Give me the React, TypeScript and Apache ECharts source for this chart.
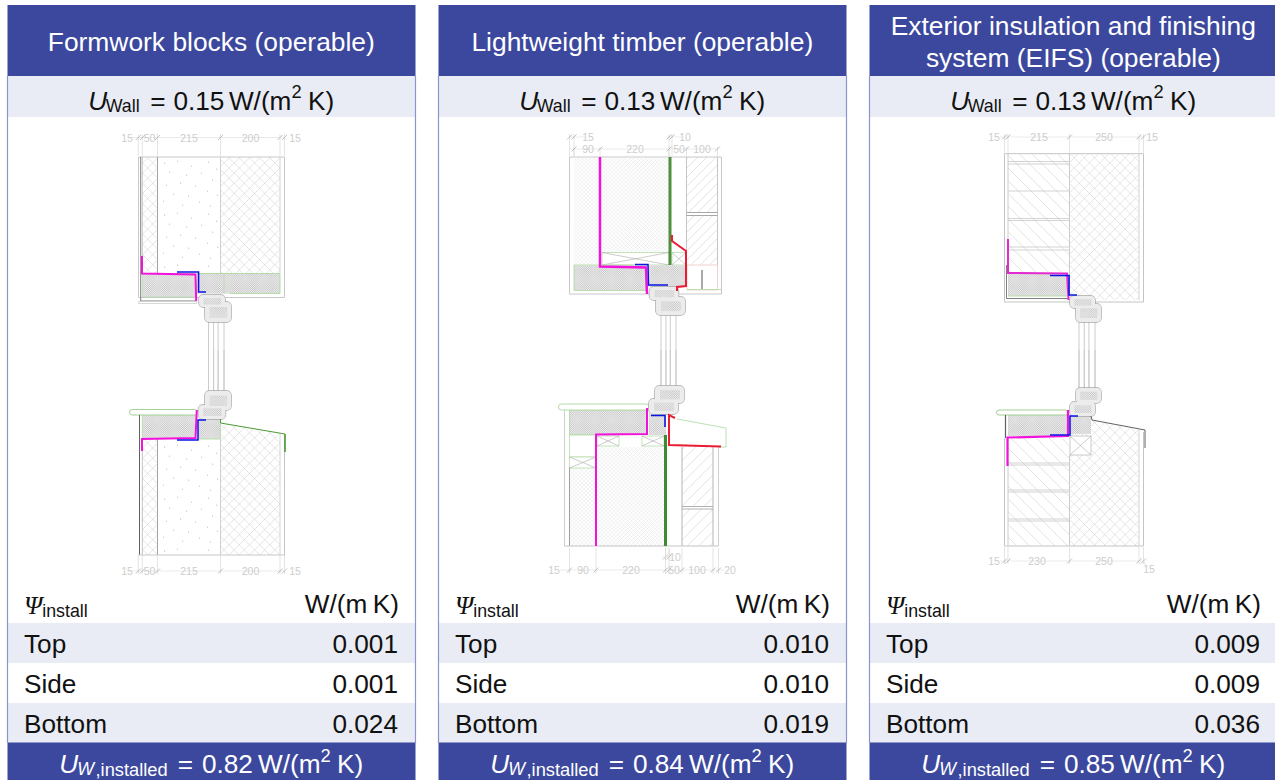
import React, { useEffect, useRef } from "react";
import * as echarts from "echarts";

const panelTitles = [
  ["Formwork blocks (operable)"],
  ["Lightweight timber (operable)"],
  ["Exterior insulation and finishing", "system (EIFS) (operable)"],
];
const wallU = ["0.15", "0.13", "0.13"];
const rowLabels = ["Top", "Side", "Bottom"];
const psiTop = ["0.001", "0.010", "0.009"];
const psiSide = ["0.001", "0.010", "0.009"];
const psiBottom = ["0.024", "0.019", "0.036"];
const installedU = ["0.82", "0.84", "0.85"];

const SANS = '"Liberation Sans", Arial, sans-serif';
const SERIF = '"Liberation Serif", serif';
const BLUE = "#3c489e";
const BAND = "#e9ecf4";
const EDGE = "#8c94cf";
const MAGENTA = "#f312dc";
const CADBLUE = "#0a14e6";
const RED = "#ea1c34";
const LGREEN = "#b5dca8";
const DGREEN = "#4d9a36";
const LINE = "#b5b5b5";
const DIM = "#cdcdcd";

type Pt = [number, number];
type Run = { t: string; size?: number; italic?: boolean; dy?: number; gap?: number; font?: string };

const measureCtx = document.createElement("canvas").getContext("2d") as CanvasRenderingContext2D;
let shapeCount = 0;

const box = (x0: number, y0: number, x1: number, y1: number): Pt[] => [[x0, y0], [x1, y0], [x1, y1], [x0, y1]];

function hatchPath(poly: Pt[], spacing: number, dirs: number[]) {
  let d = "";
  const step = spacing * Math.SQRT2;
  for (const s of dirs) {
    const vals = poly.map((p) => p[0] + s * p[1]);
    const lo = Math.floor(Math.min(...vals) / step) * step;
    const hi = Math.max(...vals);
    for (let c = lo; c <= hi; c += step) {
      const hits: Pt[] = [];
      poly.forEach((a, i) => {
        const b = poly[(i + 1) % poly.length];
        const fa = a[0] + s * a[1] - c;
        const fb = b[0] + s * b[1] - c;
        if (fa * fb < 0) {
          const t = fa / (fa - fb);
          hits.push([a[0] + (b[0] - a[0]) * t, a[1] + (b[1] - a[1]) * t]);
        }
      });
      if (hits.length >= 2) {
        hits.sort((p, q) => p[0] - q[0]);
        const p = hits[0];
        const q = hits[hits.length - 1];
        d += `M${p[0].toFixed(2)} ${p[1].toFixed(2)}L${q[0].toFixed(2)} ${q[1].toFixed(2)}`;
      }
    }
  }
  return d;
}

function build() {
  const els: any[] = [];
  const rect = (x: number, y: number, w: number, h: number, fill: string, stroke = "none", lw = 1, r = 0) =>
    els.push({ type: "rect", silent: true, shape: { x, y, width: w, height: h, r }, style: { fill, stroke, lineWidth: lw } });
  const pl = (points: Pt[], stroke = LINE, lw = 1) =>
    els.push({ type: "polyline", silent: true, shape: { points }, style: { fill: "none", stroke, lineWidth: lw } });
  const pathEl = (d: string, stroke: string, lw: number) => {
    if (!d) return;
    const name = "cad" + shapeCount++;
    echarts.graphic.registerShape(name, (echarts.graphic as any).extendPath(d, {}));
    els.push({ type: name, silent: true, style: { fill: "none", stroke, lineWidth: lw } });
  };
  const txt = (x: number, y: number, text: string, fontSize: number, fill: string, align = "left", italic = false, font = SANS) =>
    els.push({
      type: "text", silent: true, x, y,
      style: { text, fill, fontSize, fontFamily: font, fontStyle: italic ? "italic" : "normal", align, verticalAlign: "middle" },
    });
  const runs = (list: Run[], x: number, y: number, align: string, fill: string, base = 26.2) => {
    const width = (r: Run) => {
      measureCtx.font = `${r.italic ? "italic " : ""}${r.size || base}px ${r.font || SANS}`;
      return measureCtx.measureText(r.t).width;
    };
    const total = list.reduce((a, r) => a + width(r) + (r.gap || 0), 0);
    let cx = align === "center" ? x - total / 2 : align === "right" ? x - total : x;
    for (const r of list) {
      cx += r.gap || 0;
      txt(cx, y + (r.dy || 0), r.t, r.size || base, fill, "left", !!r.italic, r.font || SANS);
      cx += width(r);
    }
  };

  const cross = (p: Pt[], sp = 7.2, c = "#d4d4d4") => pathEl(hatchPath(p, sp, [1, -1]), c, 0.6);
  const fine = (p: Pt[]) => pathEl(hatchPath(p, 2.8, [1, -1]), "#e8e8e8", 0.55);
  const diag = (p: Pt[], sp = 7, s = -1) => pathEl(hatchPath(p, sp, [s]), "#d2d2d2", 0.65);
  const stipple = (x0: number, y0: number, x1: number, y1: number) => {
    rect(x0, y0, x1 - x0, y1 - y0, "#c4c4c4");
    pathEl(hatchPath(box(x0, y0, x1, y1), 1.5, [1, -1]), "#ffffff", 0.5);
  };
  const xbox = (x0: number, y0: number, x1: number, y1: number, c = LGREEN) => {
    rect(x0, y0, x1 - x0, y1 - y0, "#fff", c, 0.8);
    pl([[x0, y0], [x1, y1]], "#aaa", 0.6);
    pl([[x0, y1], [x1, y0]], "#aaa", 0.6);
  };
  const dots = (x0: number, y0: number, x1: number, y1: number) => {
    const tile: Pt[] = [[4, 5], [17, 3], [31, 8], [48, 4], [56, 11], [9, 14], [26, 17], [41, 15], [52, 22], [6, 27], [20, 25], [35, 28], [47, 33], [13, 36], [28, 38], [57, 37], [3, 43], [39, 44], [22, 47], [50, 48]];
    let d = "";
    for (let oy = y0; oy < y1; oy += 52) {
      for (const p of tile) {
        const px = x0 + p[0];
        const py = oy + p[1];
        if (px < x1 && py < y1) d += `M${px} ${py}L${px + 1.1} ${py + 0.4}`;
      }
    }
    pathEl(d, "#b4b4b4", 0.9);
  };
  // two overlapping frame profiles merged into one outline
  const frame = (a: number[], b: number[]) => {
    rect(a[0], a[1], a[2], a[3], "#e6e6e6", "#a8a8a8", 1.4, 4);
    rect(b[0], b[1], b[2], b[3], "#e6e6e6", "#a8a8a8", 1.4, 4);
    rect(a[0], a[1], a[2], a[3], "#ececec", "none", 0, 4);
    rect(b[0], b[1], b[2], b[3], "#ececec", "none", 0, 4);
    stipple(a[0] + a[2] * 0.18, a[1] + a[3] * 0.25, a[0] + a[2] * 0.85, a[1] + a[3] * 0.78);
    stipple(b[0] + b[2] * 0.18, b[1] + b[3] * 0.25, b[0] + b[2] * 0.85, b[1] + b[3] * 0.78);
  };
  const glass = (x0: number, x1: number, y0: number, y1: number) => {
    const w = x1 - x0;
    [0, 0.33, 0.62, 1].forEach((k) => pl([[x0 + w * k, y0], [x0 + w * k, y1]], "#cccccc", 1));
  };
  const dimText = (x: number, y: number, t: string) => txt(x, y, t, 10.5, DIM, "center");
  const dimLine = (y: number, x0: number, x1: number, ticks: number[], y0: number, y1: number) => {
    pl([[x0, y], [x1, y]], "#e2e2e2", 0.7);
    ticks.forEach((x) => {
      pl([[x, y0], [x, y1]], "#d8d8d8", 0.7);
      pl([[x - 2.5, y + 2.5], [x + 2.5, y - 2.5]], "#a8a8a8", 0.7);
    });
  };

  rect(0, 0, 1275, 780, "#ffffff");

  const panels = [7.5, 438.5, 869.5];
  panels.forEach((px, i) => {
    const w = 408;
    rect(px, 5, w, 71, BLUE);
    rect(px, 76, w, 41, BAND);
    rect(px, 623, w, 40, BAND);
    rect(px, 703, w, 40, BAND);
    rect(px, 742.5, w, 38, BLUE);
    pl([[px, 76], [px, 743]], EDGE, 1.2);
    pl([[px + w, 76], [px + w, 743]], EDGE, 1.2);

    const cx = px + w / 2 - 0.2;
    const title = panelTitles[i];
    if (title.length === 1) txt(cx, 42, title[0], 26.4, "#ffffff", "center");
    else title.forEach((t, k) => txt(cx, 26 + k * 32, t, 26.4, "#ffffff", "center"));

    runs(
      [
        { t: "U", italic: true },
        { t: "Wall", size: 17.8, dy: 5, gap: -1.5 },
        { t: "=", gap: 10.5 },
        { t: wallU[i], gap: 8 },
        { t: "W/(m", gap: 4.5 },
        { t: "2", size: 18.3, dy: -9 },
        { t: "K)", gap: 6.5 },
      ],
      cx, 100.5, "center", "#111111"
    );

    runs(
      [
        { t: "Ψ", italic: true, font: SERIF, size: 26 },
        { t: "install", size: 17.8, dy: 5 },
      ],
      px + 16.5, 605.5, "left", "#111111"
    );
    runs([{ t: "W/(m" }, { t: "K)", gap: 5.5 }], px + w - 16.5, 604, "right", "#111111");

    const vals = [psiTop[i], psiSide[i], psiBottom[i]];
    rowLabels.forEach((l, k) => {
      txt(px + 16.5, 644 + k * 40, l, 26.2, "#111111");
      txt(px + w - 17.5, 644 + k * 40, vals[k], 26.2, "#111111", "right");
    });

    runs(
      [
        { t: "U", italic: true },
        { t: "W", size: 17.8, dy: 5, italic: true, gap: -1 },
        { t: ",installed", size: 18.3, dy: 5, gap: 1.5 },
        { t: "=", gap: 10 },
        { t: installedU[i], gap: 9 },
        { t: "W/(m", gap: 5 },
        { t: "2", size: 18.3, dy: -9 },
        { t: "K)", gap: 6.5 },
      ],
      cx, 764, "center", "#ffffff"
    );
  });

  // ---------- Drawing 1: formwork blocks ----------
  dimLine(137.5, 130, 284.5, [138.3, 142.3, 157.5, 220.5, 280, 284.5], 134, 156);
  dimText(127, 137.5, "15"); dimText(149.5, 137.5, "50"); dimText(189, 137.5, "215"); dimText(250.5, 137.5, "200"); dimText(295, 137.5, "15");
  rect(138.5, 157, 146, 140.5, "#fff", "#c8c8c8", 1);
  cross(box(142.3, 157, 157.5, 273));
  cross(box(220.5, 157, 280, 273));
  dots(160, 158, 218, 270);
  stipple(142.3, 274, 195, 297);
  stipple(197, 274, 280, 293.5);
  pl([[142.3, 273.5], [195, 273.5]], LGREEN, 1);
  pl([[197, 273.5], [280, 273.5], [280, 293.5], [230, 293.5]], LGREEN, 1);
  pl([[224, 273.5], [224, 293.5]], LGREEN, 0.8);
  pl([[142.3, 274], [142.3, 297], [195, 297]], LGREEN, 0.8);
  pl([[220.5, 157], [220.5, 273]], "#d0d0d0", 1);
  pl([[280, 157], [280, 273]], "#d4d4d4", 1);
  pl([[157.5, 157], [157.5, 273]], "#a4a4a4", 1);
  pl([[142.3, 157], [142.3, 256]], "#c8c8c8", 1);
  pl([[140.7, 157], [140.7, 301], [196, 301]], "#707070", 0.9);
  rect(138.5, 301.5, 58, 2, "#fff", "#c8c8c8", 0.7);
  glass(208.5, 224, 320, 392);
  frame([205, 302, 26, 20], [199, 295, 26, 12]);
  pl([[142, 256], [142, 273.5], [195.5, 274.5], [196.2, 301]], MAGENTA, 2);
  pl([[177, 272], [198.6, 272], [198.6, 292], [206, 292]], CADBLUE, 1.5);

  rect(139, 415, 145.5, 140, "#fff");
  cross(box(142.3, 440, 157.5, 555));
  cross([[220.5, 423], [280, 433], [280, 555], [220.5, 555]]);
  dots(160, 442, 218, 553);
  stipple(142.3, 415, 196, 438);
  stipple(198, 419, 220.5, 439);
  pl([[198, 439], [220.5, 439], [220.5, 419]], LGREEN, 0.9);
  pl([[142.3, 415], [142.3, 438]], LGREEN, 0.9);
  rect(129.5, 409.5, 67.5, 5.5, "#fff", "#a3d094", 1, 2.7);
  pl([[139.5, 415], [139.5, 555]], "#606060", 1);
  pl([[142.3, 440], [142.3, 555]], "#c4c4c4", 1);
  pl([[157.5, 439], [157.5, 555]], "#a4a4a4", 1);
  pl([[220.5, 439], [220.5, 555]], "#d0d0d0", 1);
  pl([[280, 434], [280, 555]], "#d4d4d4", 1);
  pl([[284.5, 434], [284.5, 555]], "#c4c4c4", 1);
  pl([[138.5, 555], [284.5, 555]], "#c8c8c8", 1);
  glass(208.5, 224, 350, 392);
  frame([205, 391, 26, 19], [198.5, 405, 27, 14]);
  pl([[220.5, 419], [220.5, 423], [285, 434]], DGREEN, 1);
  pl([[285, 434], [285, 452]], DGREEN, 1.6);
  pl([[142, 451], [142, 439], [195.5, 438], [196.8, 410]], MAGENTA, 2);
  pl([[177, 440], [198, 440], [198, 420], [206, 420]], CADBLUE, 1.5);
  dimLine(571, 130, 284.5, [138.3, 142.3, 157.5, 220.5, 280, 284.5], 555, 574);
  dimText(127, 571, "15"); dimText(149.5, 571, "50"); dimText(189, 571, "215"); dimText(250.5, 571, "200"); dimText(295, 571, "15");

  // ---------- Drawing 2: lightweight timber ----------
  dimLine(137, 570, 585, [569.5, 574], 134, 156);
  dimLine(137, 668, 682, [669, 672], 134, 156);
  dimLine(149, 570, 718, [574, 600, 669, 686.5, 717.5], 147, 156);
  dimText(588, 137, "15"); dimText(685, 137, "10");
  dimText(588, 149, "90"); dimText(635, 149, "220"); dimText(679, 149, "50"); dimText(702, 149, "100");
  rect(569.5, 157, 152, 137, "#fff", "#c8c8c8", 1);
  fine(box(574, 157, 600, 265));
  fine(box(602, 157, 669, 252));
  diag(box(686.5, 157, 717.5, 212), 6.5, 1);
  diag(box(686.5, 216, 717.5, 265), 6.5, 1);
  pl([[686.5, 157], [686.5, 265]], "#c4c4c4", 1);
  pl([[717.5, 157], [717.5, 265]], "#c4c4c4", 1);
  pl([[686.5, 212.5], [717.5, 212.5]], "#a8a8a8", 1);
  pl([[686.5, 215.5], [717.5, 215.5]], "#a8a8a8", 1);
  xbox(602, 252.5, 669, 265);
  xbox(672, 252.5, 686, 265);
  stipple(574, 265.5, 646, 290.5);
  stipple(648, 265.5, 686, 287);
  rect(574, 265, 72, 25.5, "none", LGREEN, 0.9);
  rect(687, 265, 30.5, 25, "#fff", "#f0cccc", 0.9);
  pl([[687, 289.5], [721, 289.5]], LGREEN, 0.9);
  pl([[702, 270], [702, 289]], "#555555", 1);
  glass(661, 676, 310, 386);
  frame([656, 297, 29, 18], [649.5, 287, 29, 13]);
  pl([[670, 157], [670, 265]], "#4f8f3f", 3);
  pl([[600, 157], [600, 266.5], [646, 267.5], [647, 294]], MAGENTA, 2.5);
  pl([[635, 264.5], [648, 264.5], [648.5, 285], [668, 285]], CADBLUE, 1.5);
  pl([[672, 235], [672, 241], [686, 251], [686, 286], [677, 287], [677, 291]], RED, 2);

  fine(box(569.5, 468, 596, 546));
  fine(box(597, 447, 665, 546));
  diag(box(682, 447, 713, 506), 8, 1);
  diag(box(682, 509, 713, 546), 8, 1);
  rect(569.5, 435, 26.5, 22, "#fff", LGREEN, 0.8);
  xbox(569.5, 457, 596, 468);
  xbox(597, 436, 619, 446);
  xbox(642, 436, 664, 446);
  stipple(569.5, 410, 647, 434.5);
  stipple(649, 414, 666, 435);
  rect(569.5, 410, 77.5, 24.5, "none", LGREEN, 0.9);
  rect(558.5, 404, 90.5, 6, "#fff", LGREEN, 1, 3);
  pl([[564.5, 410], [564.5, 546]], "#cfcfcf", 1);
  pl([[569.5, 468], [569.5, 546]], "#a0a0a0", 1);
  pl([[682, 447], [682, 546]], "#b4b4b4", 1);
  pl([[713, 447], [713, 546]], "#b4b4b4", 1);
  pl([[718.5, 447], [718.5, 546]], "#cfcfcf", 1);
  pl([[682, 506.5], [713, 506.5]], "#a8a8a8", 0.9);
  pl([[682, 509], [713, 509]], "#a8a8a8", 0.9);
  pl([[564.5, 546], [718.5, 546]], "#c4c4c4", 1);
  pl([[677, 419], [726, 428], [726, 447], [718, 447]], LGREEN, 0.9);
  glass(661, 676, 350, 388);
  frame([655, 386, 29, 17], [649, 399, 29, 15]);
  pl([[665.5, 435], [665.5, 546]], "#3f8a35", 3);
  pl([[647, 408], [647, 434], [596, 434.5], [596, 546]], MAGENTA, 2);
  pl([[651, 415.5], [665, 415.5], [665, 427]], CADBLUE, 1.6);
  pl([[675, 418], [669, 415], [669, 445], [721, 446.5]], RED, 2);
  dimLine(557, 662, 672, [665.5, 669], 548, 560);
  dimLine(570, 560, 725, [569.5, 596, 665.5, 669, 682, 713, 718.5], 548, 574);
  dimText(675, 557, "10");
  dimText(554, 570, "15"); dimText(583, 570, "90"); dimText(631, 570, "220"); dimText(674, 570, "50"); dimText(697, 570, "100"); dimText(730, 570, "20");

  // ---------- Drawing 3: EIFS ----------
  dimLine(137, 1000, 1144, [1004.5, 1008, 1069.5, 1139, 1143.5], 134, 153);
  dimText(994, 137, "15"); dimText(1039, 137, "215"); dimText(1104, 137, "250"); dimText(1152, 137, "15");
  rect(1004.5, 153.7, 139, 148.3, "#fff", "#c4c4c4", 1);
  diag(box(1008, 154, 1069.5, 272), 9);
  cross(box(1069.5, 154, 1139, 300));
  [161.5, 164, 191, 218.5, 220.5, 247, 250].forEach((y) => pl([[1008, y], [1069.5, y]], "#c0c0c0", 0.7));
  pl([[1069.5, 154], [1069.5, 296]], "#cccccc", 1);
  pl([[1139, 154], [1139, 300]], "#d4d4d4", 1);
  pl([[1008, 154], [1008, 239]], "#cccccc", 1);
  stipple(1008, 273, 1067, 296);
  pl([[1008, 296], [1067, 296]], LGREEN, 1);
  pl([[1006.5, 265], [1006.5, 298.5], [1068, 298.5]], "#707070", 0.9);
  glass(1079, 1095, 320, 390);
  frame([1076, 304, 25, 18], [1070, 296, 25, 12]);
  pl([[1008, 239], [1008, 273], [1067, 273.5], [1068.5, 300]], "#e22ad0", 2);
  pl([[1050, 275.5], [1069, 275.5], [1069, 295], [1077, 295]], CADBLUE, 1.6);

  diag(box(1008, 438, 1069.5, 546), 9);
  cross([[1069.5, 418], [1091.5, 420], [1139, 430], [1139, 546], [1069.5, 546]]);
  [463, 465, 490, 492, 519, 521].forEach((y) => pl([[1008, y], [1069.5, y]], "#c0c0c0", 0.7));
  xbox(1070, 436, 1091, 455, "#bcbcbc");
  stipple(1008, 415, 1067, 436);
  stipple(1071, 416, 1091, 434);
  rect(996.5, 410, 71.5, 5, "#fff", "#a3d094", 1, 2.5);
  pl([[1005.5, 415], [1005.5, 438]], "#606060", 1.2);
  pl([[1004.5, 438], [1004.5, 546], [1143.5, 546], [1143.5, 432]], "#c4c4c4", 1);
  pl([[1008, 438], [1008, 546]], "#cccccc", 1);
  pl([[1069.5, 455], [1069.5, 546]], "#cccccc", 1);
  pl([[1139, 430], [1139, 546]], "#d4d4d4", 1);
  glass(1079, 1095, 350, 390);
  frame([1076, 388, 25, 15], [1070, 402, 25, 14]);
  pl([[1091, 416], [1092, 420], [1145, 430], [1145, 448]], "#606060", 1);
  pl([[1068, 410], [1068, 436], [1007.5, 437.5], [1007.5, 466]], MAGENTA, 2.2);
  pl([[1050, 435], [1070, 435], [1070, 416], [1078, 416]], CADBLUE, 1.6);
  dimLine(561, 1000, 1144, [1004.5, 1008, 1069.5, 1139, 1143.5], 547, 564);
  dimText(994, 561, "15"); dimText(1037, 561, "230"); dimText(1104, 561, "250"); dimText(1149, 569, "15");
  pl([[1143.5, 561], [1146, 566]], "#d8d8d8", 0.7);

  return els;
}

export default function App() {
  const ref = useRef<HTMLDivElement>(null);
  useEffect(() => {
    const chart = echarts.init(ref.current as HTMLDivElement, undefined, { renderer: "svg" });
    chart.setOption({ animation: false, graphic: { elements: build() } });
    return () => chart.dispose();
  }, []);
  return <div ref={ref} style={{ position: "fixed", left: 0, top: 0, width: 1275, height: 780, background: "#fff" }} />;
}
